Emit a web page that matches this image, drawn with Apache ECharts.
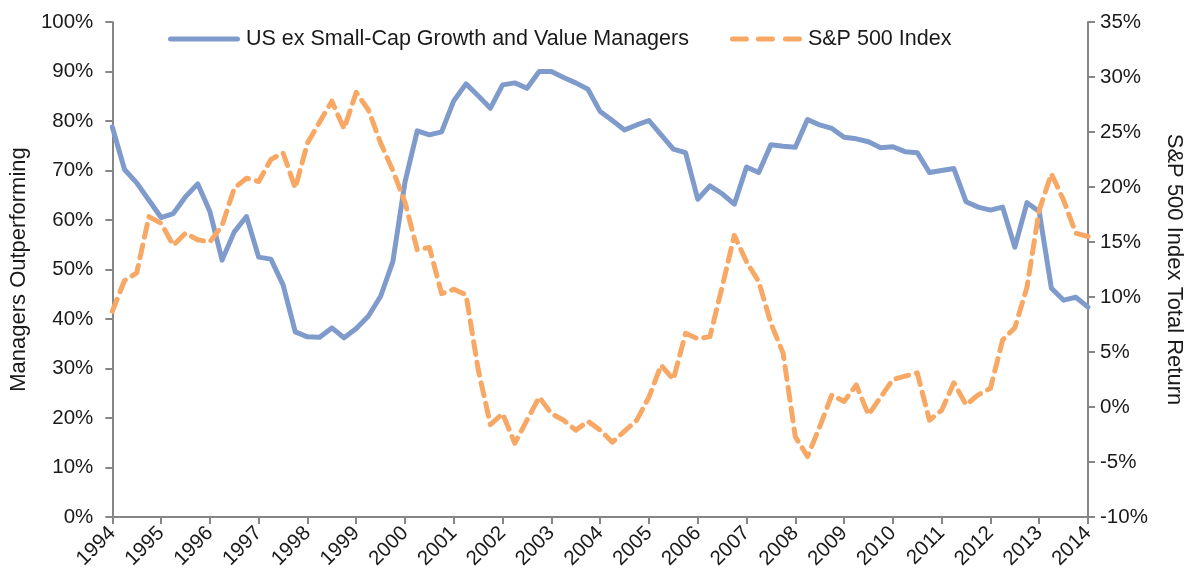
<!DOCTYPE html>
<html>
<head>
<meta charset="utf-8">
<script src="https://cdn.jsdelivr.net/npm/echarts@6/dist/echarts.min.js"></script>
<style>html,body{margin:0;padding:0;background:#fff}#c{width:1194px;height:573px}</style>
</head>
<body>
<div id="c"></div>
<script>
const years = ['1994','1995','1996','1997','1998','1999','2000','2001','2002','2003','2004','2005','2006','2007','2008','2009','2010','2011','2012','2013','2014'];
const quarters = ['Q1','Q2','Q3','Q4'];
const managersOutperforming = [
  78.8,70.2,67.5,64.0,60.5,61.3,64.7,67.3,61.7,51.9,57.6,60.7,52.5,52.1,46.9,37.4,
  36.4,36.3,38.2,36.2,38.1,40.6,44.6,51.6,67.7,78.0,77.2,77.8,84.1,87.5,85.1,82.6,
  87.3,87.7,86.6,90.0,90.0,88.8,87.7,86.4,81.9,80.1,78.2,79.2,80.1,77.2,74.3,73.6,
  64.2,66.9,65.3,63.2,70.7,69.6,75.2,74.9,74.7,80.3,79.2,78.5,76.7,76.4,75.8,74.6,
  74.8,73.8,73.6,69.6,70.0,70.4,63.7,62.6,62.0,62.6,54.5,63.5,61.7,46.2,43.8,44.4,42.4
];
const sp500Return = [
  8.7,11.5,12.2,17.3,16.7,14.7,15.8,15.2,15.0,16.5,19.9,20.8,20.5,22.5,23.1,19.9,
  24.0,25.9,27.8,25.3,28.6,27.0,24.0,21.5,18.6,14.3,14.5,10.3,10.7,10.2,3.4,-1.6,
  -0.6,-3.3,-1.2,0.9,-0.6,-1.2,-2.1,-1.3,-2.1,-3.2,-2.2,-1.2,0.9,3.8,2.5,6.7,
  6.2,6.4,10.9,15.6,13.2,11.4,7.6,4.9,-2.7,-4.5,-1.8,1.1,0.5,2.0,-0.7,0.9,
  2.5,2.8,3.1,-1.2,-0.3,2.2,0.2,1.1,1.7,6.1,7.2,10.9,17.9,21.2,18.8,15.8,15.5
];
const seriesNames = ['US ex Small-Cap Growth and Value Managers', 'S&P 500 Index'];

const categories = [];
years.forEach((y, yi) => {
  if (yi < years.length - 1) quarters.forEach(q => categories.push(y + ' ' + q));
  else categories.push(y + ' Q1');
});

const FONT = 'Liberation Sans, Arial, sans-serif';
const TXT = '#1a1a1a';
const AX = '#868686';
const BLUE = '#7F9BCC';
const ORANGE = '#F7A864';
const isYear = (idx) => idx % 4 === 0;

const chart = echarts.init(document.getElementById('c'), null, {renderer: 'canvas'});
chart.setOption({
  animation: false,
  textStyle: {fontFamily: FONT},
  grid: {left: 112, right: 106, top: 22, bottom: 56, containLabel: false},
  legend: {
    left: 163, top: 23,
    itemWidth: 72, itemHeight: 5, itemGap: 41,
    textStyle: {fontSize: 21.5, color: TXT, fontFamily: FONT, padding: [0, 0, 0, 1]},
    data: [
      {name: seriesNames[0], icon: 'path://M2.5,0h67a2.5,2.5 0 0 1 0,5h-67a2.5,2.5 0 0 1 0,-5z', itemStyle: {color: BLUE}},
      {name: seriesNames[1], icon: 'path://M2.5,0h14a2.5,2.5 0 0 1 0,5h-14a2.5,2.5 0 0 1 0,-5z M28.5,0h14a2.5,2.5 0 0 1 0,5h-14a2.5,2.5 0 0 1 0,-5z M55.5,0h14a2.5,2.5 0 0 1 0,5h-14a2.5,2.5 0 0 1 0,-5z', itemStyle: {color: ORANGE}}
    ]
  },
  xAxis: {
    type: 'category',
    data: categories,
    boundaryGap: false,
    axisLine: {lineStyle: {color: AX, width: 2}},
    axisTick: {show: true, interval: (i) => isYear(i), length: 7, lineStyle: {color: AX, width: 2}},
    axisLabel: {
      interval: (i) => isYear(i),
      formatter: (v) => v.slice(0, 4),
      rotate: 45, margin: 13,
      fontSize: 20.5, color: TXT, fontFamily: FONT
    },
    splitLine: {show: false}
  },
  yAxis: [
    {
      type: 'value', min: 0, max: 100, interval: 10,
      name: 'Managers Outperforming', nameLocation: 'middle', nameRotate: 90, nameGap: 77,
      nameTextStyle: {fontSize: 22, color: TXT, fontFamily: FONT},
      axisLine: {show: true, lineStyle: {color: AX, width: 2}},
      axisTick: {show: true, length: 7, lineStyle: {color: AX, width: 2}},
      axisLabel: {formatter: '{value}%', margin: 19, fontSize: 20.5, color: TXT, fontFamily: FONT},
      splitLine: {show: false}
    },
    {
      type: 'value', min: -10, max: 35, interval: 5, position: 'right',
      name: 'S&P 500 Index Total Return', nameLocation: 'middle', nameRotate: -90, nameGap: 75,
      nameTextStyle: {fontSize: 22, color: TXT, fontFamily: FONT},
      axisLine: {show: true, lineStyle: {color: AX, width: 2}},
      axisTick: {show: true, length: 7, lineStyle: {color: AX, width: 2}},
      axisLabel: {formatter: '{value}%', margin: 12, fontSize: 20.5, color: TXT, fontFamily: FONT},
      splitLine: {show: false}
    }
  ],
  series: [
    {
      name: seriesNames[0], type: 'line', yAxisIndex: 0,
      data: managersOutperforming, symbol: 'none', smooth: false,
      lineStyle: {color: BLUE, width: 5, cap: 'round', join: 'round'},
      itemStyle: {color: BLUE}
    },
    {
      name: seriesNames[1], type: 'line', yAxisIndex: 1,
      data: sp500Return, symbol: 'none', smooth: false,
      lineStyle: {color: ORANGE, width: 5, type: [13, 8], cap: 'round', join: 'round'},
      itemStyle: {color: ORANGE}
    }
  ]
});
</script>
</body>
</html>
